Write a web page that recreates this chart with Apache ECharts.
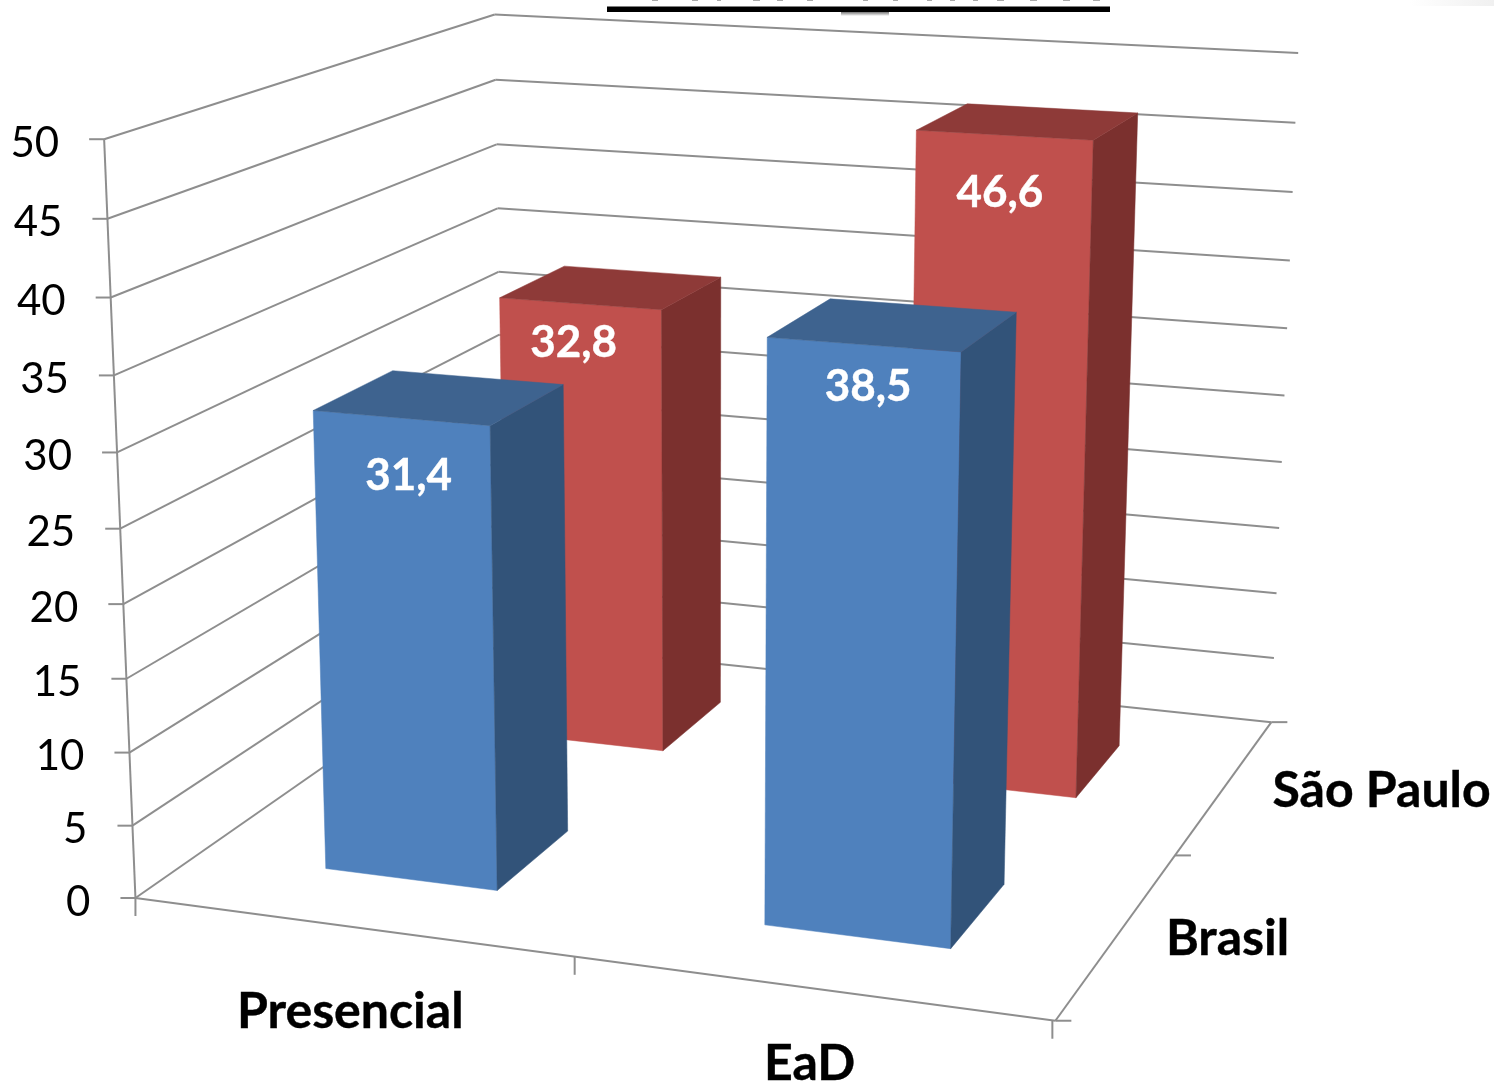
<!DOCTYPE html>
<html>
<head>
<meta charset="utf-8">
<script src="https://cdn.jsdelivr.net/npm/echarts@6/dist/echarts.min.js"></script>
<style>html,body{margin:0;padding:0;background:#fff}#chart{width:1494px;height:1084px}</style>
</head>
<body>
<div id="chart"></div>
<script>
// Chart values
var modalidades = ['Presencial', 'EaD'];
var regioes = ['Brasil', 'São Paulo'];
var brasil = [31.4, 38.5];
var saoPaulo = [32.8, 46.6];
var escala = [0, 5, 10, 15, 20, 25, 30, 35, 40, 45, 50];

// Box corners on screen: [u, v, w, x, y], u along categories, v into the depth, w up
var cantos = [
  [0, 0, 0, 135, 897], [1, 0, 0, 1056, 1021], [1, 1, 0, 1271, 722], [0, 1, 0, 504, 642],
  [0, 0, 1, 104, 140], [0, 1, 1, 495, 14], [1, 1, 1, 1298, 53]
];
var larguraBarra = 0.4;       // share of a category slot taken by a bar

// Label placement, all in pixels
var quedaRotulo = [[58, 42], [39, 58]];       // drop under the bar's top edge, per region and category
var desvioRotulo = [[7, 4], [-7, -5]];        // sideways shift, per region and category
var desvioCategoria = [[-1, 85], [-1, 76]];   // category label from its point on the front edge
var desvioRegiao = [[109, 5], [156, 5]];      // depth label from its point on the right edge

var cores = {
  azul: { frente: '#4F81BD', topo: '#3E638F', lado: '#325379' },
  vermelho: { frente: '#C0504D', topo: '#8E3A38', lado: '#7B302E' }
};
var linha = { stroke: '#8E8E8E', lineWidth: 2 };

// Bottom edges of the heading's letters that stick out above the rule: [x, width]
var restosTitulo = [[652, 6], [692, 6], [717, 4], [753, 7], [777, 6], [807, 6], [863, 5], [893, 5],
  [927, 5], [950, 5], [973, 5], [997, 7], [1030, 7], [1063, 7], [1093, 7]];

// Least-squares fit of a 3x4 projective camera to the box corners
function ajustarCamera(pts) {
  var n = 11, A = [], b = [];
  for (var i = 0; i < n; i++) { A.push(new Array(n).fill(0)); b.push(0); }
  function somar(r, t) {
    for (var i = 0; i < n; i++) {
      b[i] += r[i] * t;
      for (var j = 0; j < n; j++) A[i][j] += r[i] * r[j];
    }
  }
  pts.forEach(function (p) {
    var u = p[0], v = p[1], w = p[2], x = p[3], y = p[4];
    somar([u, v, w, 1, 0, 0, 0, 0, -x * u, -x * v, -x * w], x);
    somar([0, 0, 0, 0, u, v, w, 1, -y * u, -y * v, -y * w], y);
  });
  for (var c = 0; c < n; c++) {
    var m = c;
    for (var l = c + 1; l < n; l++) if (Math.abs(A[l][c]) > Math.abs(A[m][c])) m = l;
    var ta = A[c]; A[c] = A[m]; A[m] = ta;
    var tb = b[c]; b[c] = b[m]; b[m] = tb;
    for (var l2 = 0; l2 < n; l2++) {
      if (l2 === c) continue;
      var f = A[l2][c] / A[c][c];
      for (var k = c; k < n; k++) A[l2][k] -= f * A[c][k];
      b[l2] -= f * b[c];
    }
  }
  return b.map(function (val, i) { return val / A[i][i]; });
}
var cam = ajustarCamera(cantos);
function projetar(u, v, w) {
  var d = cam[8] * u + cam[9] * v + cam[10] * w + 1;
  return [
    (cam[0] * u + cam[1] * v + cam[2] * w + cam[3]) / d,
    (cam[4] * u + cam[5] * v + cam[6] * w + cam[7]) / d
  ];
}

// Reads an axis position through the grid's scales and turns it into box coordinates
function normalizar(params, api, cat, valor) {
  var r = params.coordSys, p = api.coord([cat, valor]);
  return { u: (p[0] - r.x) / r.width, w: (r.y + r.height - p[1]) / r.height };
}
function traco(a, b) {
  return { type: 'line', shape: { x1: a[0], y1: a[1], x2: b[0], y2: b[1] }, style: linha };
}
function rotulo(txt, x, y, fonte, cor, alinhar, reforco) {
  return {
    type: 'text',
    style: {
      text: txt, x: x, y: y, font: fonte, fill: cor, align: alinhar || 'center', verticalAlign: 'middle',
      stroke: reforco ? cor : null, lineWidth: reforco || 0
    }
  };
}

// Value axis: gridlines on both walls, tick and label for each step
function desenharEscala(params, api) {
  var n = normalizar(params, api, 0, api.value(1));
  var f = projetar(0, 0, n.w), t = projetar(0, 1, n.w), d = projetar(1, 1, n.w);
  return {
    type: 'group',
    children: [
      traco(f, t), traco(t, d),
      traco([f[0] - 15, f[1]], f),
      rotulo(String(api.value(1)), f[0] - 45, f[1] + 4, '42px Lato', '#000', 'right')
    ]
  };
}

// Floor edges, vertical axis, category ticks and labels
function desenharBase(params, api) {
  var o = projetar(0, 0, 0), a = projetar(1, 0, 0), b = projetar(1, 1, 0), topo = projetar(0, 0, 1);
  var filhos = [traco(o, a), traco(a, b), traco(o, topo)];
  [0, 0.5, 1].forEach(function (u) {
    var p = projetar(u, 0, 0), x = p[0] - 3 * u;
    filhos.push(traco([x, p[1]], [x, p[1] + 18]));
  });
  [0, 0.5, 1].forEach(function (v) {
    var p = projetar(1, v, 0);
    filhos.push(traco(p, [p[0] + 16, p[1]]));
  });
  modalidades.forEach(function (nome, i) {
    var p = projetar((i + 0.5) / modalidades.length, 0, 0);
    filhos.push(rotulo(nome, p[0] + desvioCategoria[i][0], p[1] + desvioCategoria[i][1], 'bold 50px Lato', '#000', 'center', 0.4));
  });
  regioes.forEach(function (nome, i) {
    var p = projetar(1, (i + 0.5) / regioes.length, 0);
    filhos.push(rotulo(nome, p[0] + desvioRegiao[i][0], p[1] + desvioRegiao[i][1], 'bold 50px Lato', '#000', 'center', 0.4));
  });
  return { type: 'group', children: filhos };
}

// One bar drawn as three faces plus its value label
function desenharBarra(indiceRegiao, paleta) {
  return function (params, api) {
    var cat = api.value(0), valor = api.value(1);
    var n = normalizar(params, api, cat, valor);
    var fatia = api.size([1, 0])[0] / params.coordSys.width;
    var meia = fatia * larguraBarra / 2;
    var prof = 1 / regioes.length;
    var v0 = (indiceRegiao + 0.5) * prof - prof * larguraBarra / 2;
    var v1 = v0 + prof * larguraBarra;
    var u0 = n.u - meia, u1 = n.u + meia, w = n.w;
    var a = projetar(u0, v0, 0), b = projetar(u1, v0, 0), c = projetar(u1, v1, 0);
    var d = projetar(u0, v0, w), e = projetar(u1, v0, w), g = projetar(u1, v1, w), h = projetar(u0, v1, w);
    var face = function (pts, cor) {
      return { type: 'polygon', shape: { points: pts }, style: { fill: cor, stroke: cor, lineWidth: 0.5 } };
    };
    return {
      type: 'group',
      children: [
        face([d, e, b, a], paleta.frente),
        face([e, g, c, b], paleta.lado),
        face([d, h, g, e], paleta.topo),
        rotulo(String(valor).replace('.', ','),
          (d[0] + e[0]) / 2 + desvioRotulo[indiceRegiao][cat],
          (d[1] + e[1]) / 2 + quedaRotulo[indiceRegiao][cat],
          'bold 44px Lato', '#fff', 'center', 0.4)
      ]
    };
  };
}
function paresDe(valores) {
  return valores.map(function (v, i) { return [i, v]; });
}

// Heading rule and what shows of the heading above it
var graficos = [
  { type: 'rect', shape: { x: 607, y: 6.5, width: 503, height: 5.5 }, style: { fill: '#000' } },
  { type: 'rect', shape: { x: 841, y: 12, width: 48, height: 4 },
    style: { fill: new echarts.graphic.LinearGradient(0, 0, 0, 1, [{ offset: 0, color: '#777' }, { offset: 1, color: '#fff' }]) } },
  { type: 'rect', shape: { x: 1410, y: 0, width: 84, height: 6 },
    style: { fill: new echarts.graphic.LinearGradient(0, 0, 1, 0, [{ offset: 0, color: '#fff' }, { offset: 1, color: '#f0f0f0' }]) } }
].concat(restosTitulo.map(function (r) {
  return { type: 'rect', shape: { x: r[0], y: 0, width: r[1], height: 1 }, style: { fill: '#aaa' } };
}));

var chart = echarts.init(document.getElementById('chart'), null, { renderer: 'canvas' });
chart.setOption({
  animation: false,
  backgroundColor: '#fff',
  grid: { left: 0, right: 0, top: 0, bottom: 0 },
  xAxis: { type: 'category', data: modalidades, show: false },
  yAxis: { type: 'value', min: 0, max: 50, interval: 5, show: false },
  graphic: graficos,
  series: [
    { type: 'custom', name: 'Escala', renderItem: desenharEscala, data: escala.map(function (v) { return [0, v]; }), z: 1 },
    { type: 'custom', name: 'Base', renderItem: desenharBase, data: [[0, 0]], z: 1 },
    { type: 'custom', name: regioes[1], renderItem: desenharBarra(1, cores.vermelho), data: paresDe(saoPaulo), z: 2 },
    { type: 'custom', name: regioes[0], renderItem: desenharBarra(0, cores.azul), data: paresDe(brasil), z: 3 }
  ]
});
</script>
</body>
</html>
